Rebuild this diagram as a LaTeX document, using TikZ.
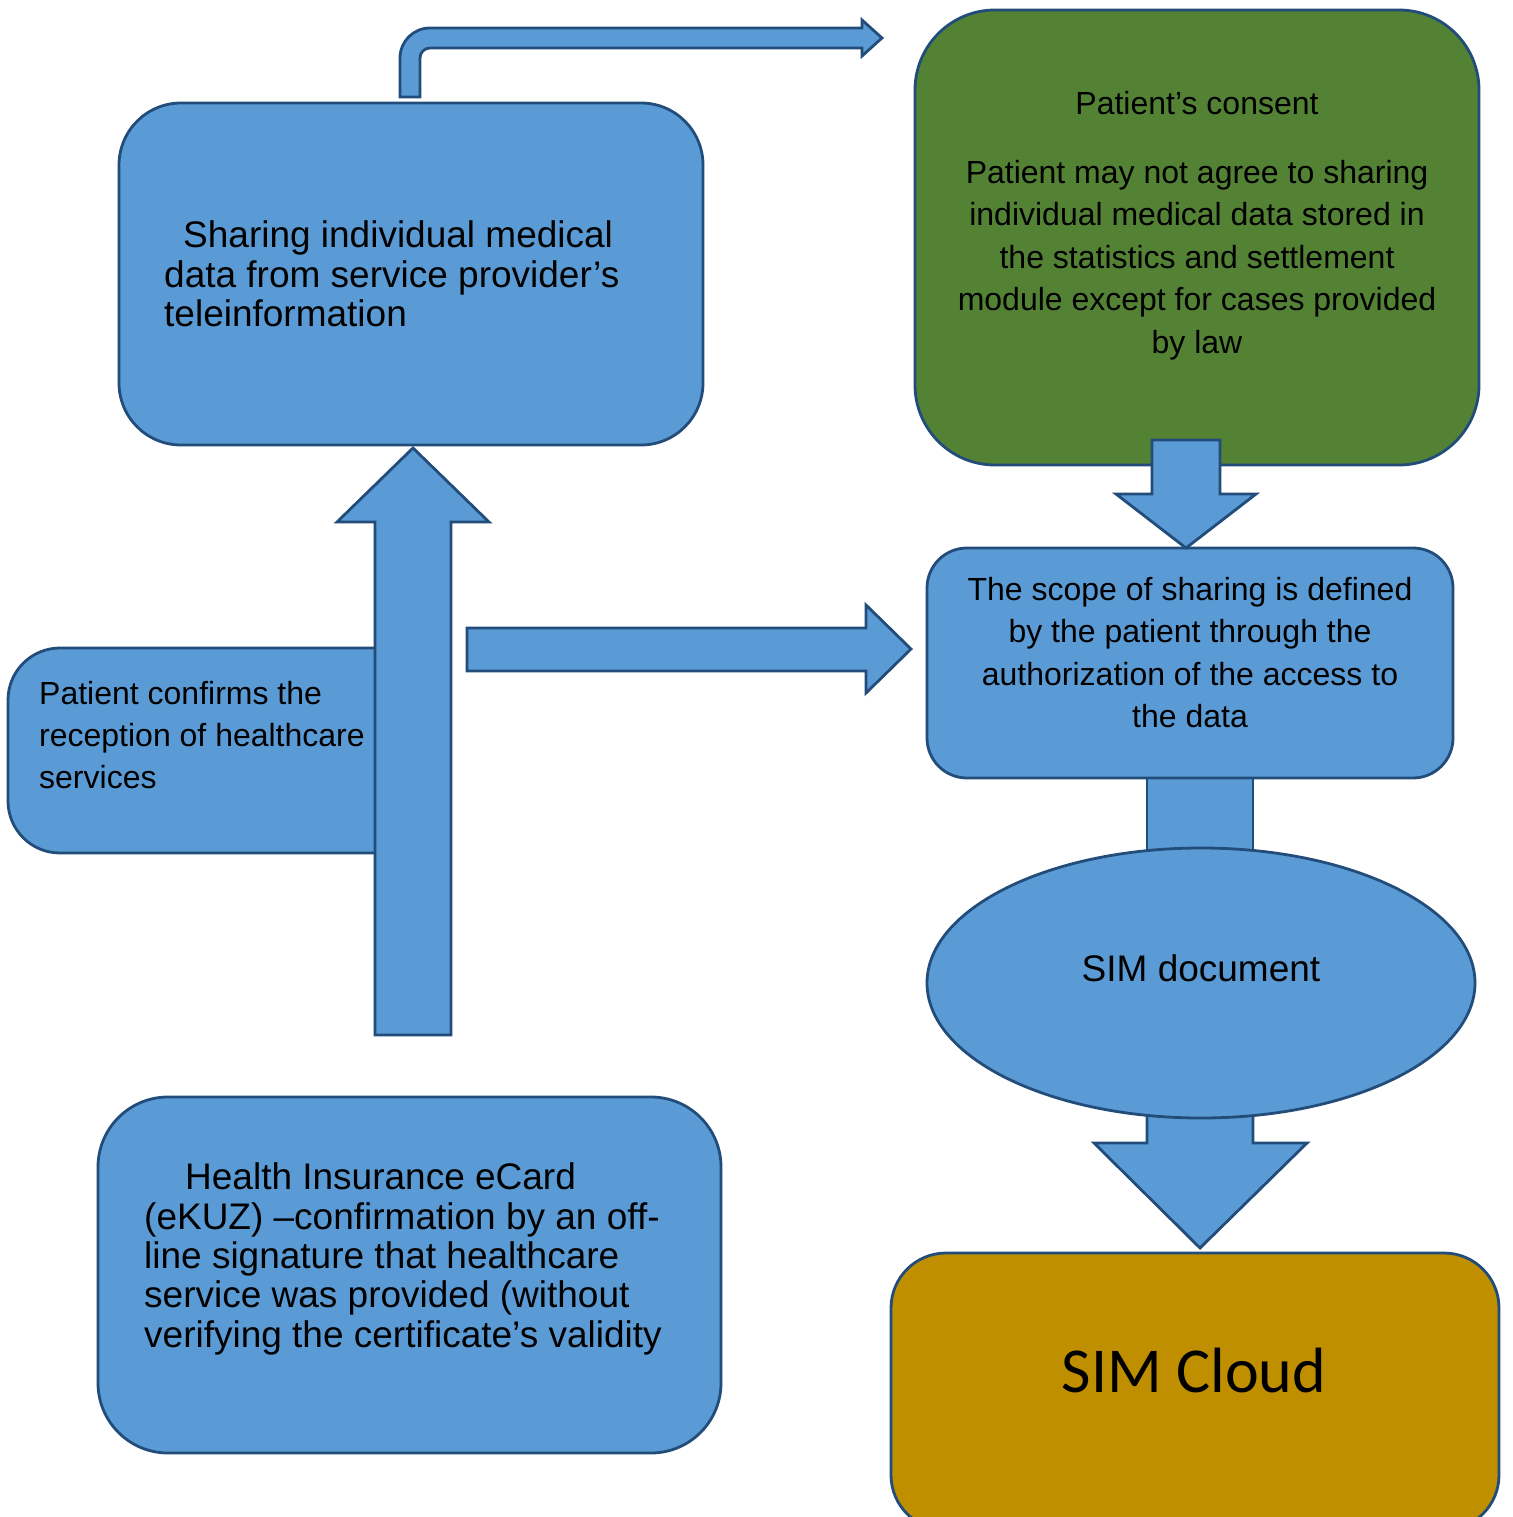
\documentclass[tikz,border=0pt]{standalone}
\usepackage{fontspec}
\setmainfont{Liberation Sans}
\newfontfamily\cloudfont{Carlito}
\usetikzlibrary{shapes.geometric}
\definecolor{boxblue}{RGB}{91,155,213}
\definecolor{boxline}{RGB}{34,76,122}
\definecolor{consentgreen}{RGB}{84,130,53}
\definecolor{cloudgold}{RGB}{191,143,0}
\tikzstyle{bluebox}=[draw=boxline,fill=boxblue,line width=2.8pt,rectangle,inner sep=0pt]
\tikzstyle{blockarrow}=[draw=boxline,fill=boxblue,line width=2.8pt,line join=miter]
\tikzstyle{midtext}=[font={\fontsize{32}{42.5}\selectfont},align=center,inner sep=0pt]
\tikzstyle{lefttext}=[font={\fontsize{32}{42}\selectfont},align=left,inner sep=0pt,anchor=west]
\tikzstyle{bigtext}=[font={\fontsize{37}{39.5}\selectfont},align=left,inner sep=0pt,anchor=west]

\begin{document}
\begin{tikzpicture}[x=1pt,y=-1pt]
    \path[use as bounding box] (0,0) rectangle (1512,1517);

    % left column
    \node[bluebox,rounded corners=52pt,minimum width=422pt,minimum height=205pt] (confirm) at (219,750.5) {};
    \draw[blockarrow] (375,1035) -- (375,522) -- (337,522) -- (413,448) -- (489,522) -- (451,522) -- (451,1035) -- cycle;
    \draw[blockarrow] (467,628) -- (866,628) -- (866,605) -- (911,649) -- (866,693) -- (866,671) -- (467,671) -- cycle;
    \node[bluebox,rounded corners=62pt,minimum width=584pt,minimum height=342pt] (share) at (411,274) {};
    \draw[blockarrow] (400,97) -- (400,58) .. controls (400,41.4) and (413.4,28) .. (430,28) -- (862,28) -- (862,20)
        -- (882,38) -- (862,56) -- (862,48) -- (430,48) .. controls (424.5,48) and (420,52.5) .. (420,58) -- (420,97) -- cycle;
    \node[bluebox,rounded corners=70pt,minimum width=623pt,minimum height=356pt] (ekuz) at (409.5,1275) {};

    % right column
    \node[bluebox,fill=consentgreen,rounded corners=80pt,minimum width=564pt,minimum height=455pt] (consent) at (1197,237.5) {};
    \draw[blockarrow] (1147,770) rectangle (1253,870);
    \node[bluebox,rounded corners=40pt,minimum width=526pt,minimum height=230pt] (scope) at (1190,663) {};
    \draw[blockarrow] (1152,440) -- (1152,494) -- (1116,494) -- (1186,548) -- (1256,494) -- (1220,494) -- (1220,440) -- cycle;
    \draw[blockarrow] (1147,1100) -- (1147,1143) -- (1094,1143) -- (1200,1248) -- (1307,1143) -- (1253,1143) -- (1253,1100) -- cycle;
    \node[bluebox,ellipse,minimum width=548pt,minimum height=270pt] (simdoc) at (1201,983) {};
    \node[bluebox,fill=cloudgold,rounded corners=55pt,minimum width=608pt,minimum height=277pt] (cloud) at (1195,1391.5) {};

    % texts
    \node[bigtext] (sharetext) at (164,274) {\hspace*{19pt}Sharing individual medical\\data from service provider’s\\teleinformation};
    \node[lefttext] (confirmtext) at (39,735) {Patient confirms the\\reception of healthcare\\services};
    \node[bigtext,font={\fontsize{37}{39.3}\selectfont}] (ekuztext) at (144,1259) {\hspace*{41pt}Health Insurance eCard\\(eKUZ) –confirmation by an off-\\line signature that healthcare\\service was provided (without\\verifying the certificate’s validity};
    \node[midtext] (consenttitle) at (1197,103) {Patient’s consent};
    \node[midtext] (consenttext) at (1197,260) {Patient may not agree to sharing\\individual medical data stored in\\the statistics and settlement\\module except for cases provided\\by law};
    \node[midtext] (scopetext) at (1190,652.5) {The scope of sharing is defined\\by the patient through the\\authorization of the access to\\the data};
    \node[midtext,font={\fontsize{37}{40}\selectfont}] (simdoctext) at (1201,968) {SIM document};
    \node[inner sep=0pt,font={\cloudfont\fontsize{64}{70}\selectfont}] (cloudtext) at (1194,1370) {SIM Cloud};
\end{tikzpicture}
\end{document}
